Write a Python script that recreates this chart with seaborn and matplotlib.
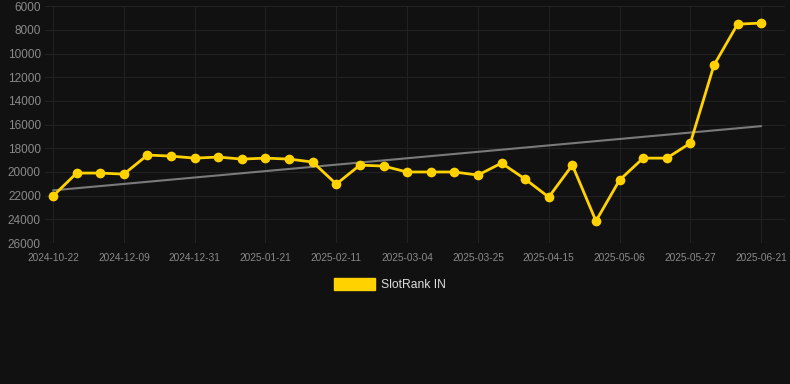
import matplotlib
matplotlib.use("Agg")
import matplotlib.pyplot as plt
from matplotlib.patches import Patch
import numpy as np
import pandas as pd
import seaborn as sns

# weekly snapshots (only every third one is labelled on the axis)
dates = [
    "2024-10-22", "2024-11-05", "2024-11-20", "2024-12-09", "2024-12-16", "2024-12-23",
    "2024-12-31", "2025-01-07", "2025-01-14", "2025-01-21", "2025-01-28", "2025-02-04",
    "2025-02-11", "2025-02-18", "2025-02-25", "2025-03-04", "2025-03-11", "2025-03-18",
    "2025-03-25", "2025-04-01", "2025-04-08", "2025-04-15", "2025-04-22", "2025-04-29",
    "2025-05-06", "2025-05-13", "2025-05-20", "2025-05-27", "2025-06-05", "2025-06-13",
    "2025-06-21",
]
rank = [
    22030, 20090, 20090, 20180, 18570, 18660, 18830, 18740, 18910, 18830, 18910,
    19160, 21020, 19420, 19500, 20000, 20000, 20000, 20260, 19250, 20600, 22120,
    19420, 24140, 20680, 18830, 18830, 17560, 10980, 7520, 7430,
]
trend_ends = [21550, 16130]
series_name = "SlotRank IN"

BG = "#111111"
GOLD = "#FFD200"

df = pd.DataFrame({"idx": np.arange(len(dates)), "date": dates, "rank": rank})

sns.set_style("dark")
plt.rcParams["font.family"] = ["Liberation Sans", "DejaVu Sans"]

fig = plt.figure(figsize=(7.9, 3.84), dpi=100, facecolor=BG)
ax = fig.add_axes([0.057, 0.367, 0.937, 0.617])
ax.set_facecolor(BG)

# trend line under the series
ax.plot([0, len(dates) - 1], trend_ends, color="#7a7a7a", lw=1.5, zorder=2)

sns.lineplot(data=df, x="idx", y="rank", color=GOLD, lw=2.0, marker="o",
             markersize=7, markeredgewidth=0, ax=ax, zorder=3)

ax.set_ylim(26000, 6000)
ax.set_yticks(range(6000, 26001, 2000))
ax.set_xlim(-0.34, 31.02)
tick_pos = list(range(0, len(dates), 3))
ax.set_xticks(tick_pos)
ax.set_xticklabels([dates[i] for i in tick_pos])

ax.grid(True, color="#222222", lw=0.8)
ax.tick_params(axis="x", colors="#8a8a8a", labelsize=7.3, length=3, color="#333333", pad=4)
ax.tick_params(axis="y", colors="#8a8a8a", labelsize=8.5, length=0, pad=3)
for s in ax.spines.values():
    s.set_visible(False)
ax.axhline(26000, color="#2a2a2a", lw=0.8)
ax.set_xlabel("")
ax.set_ylabel("")

handle = Patch(facecolor=GOLD, edgecolor=GOLD)
leg = fig.legend([handle], [series_name], loc="center", bbox_to_anchor=(0.494, 0.258),
                 frameon=False, handlelength=3.4, handleheight=1.1, handletextpad=0.5,
                 fontsize=8.7)
for t in leg.get_texts():
    t.set_color("#dddddd")

fig.savefig("out.png", dpi=100, facecolor=BG)
